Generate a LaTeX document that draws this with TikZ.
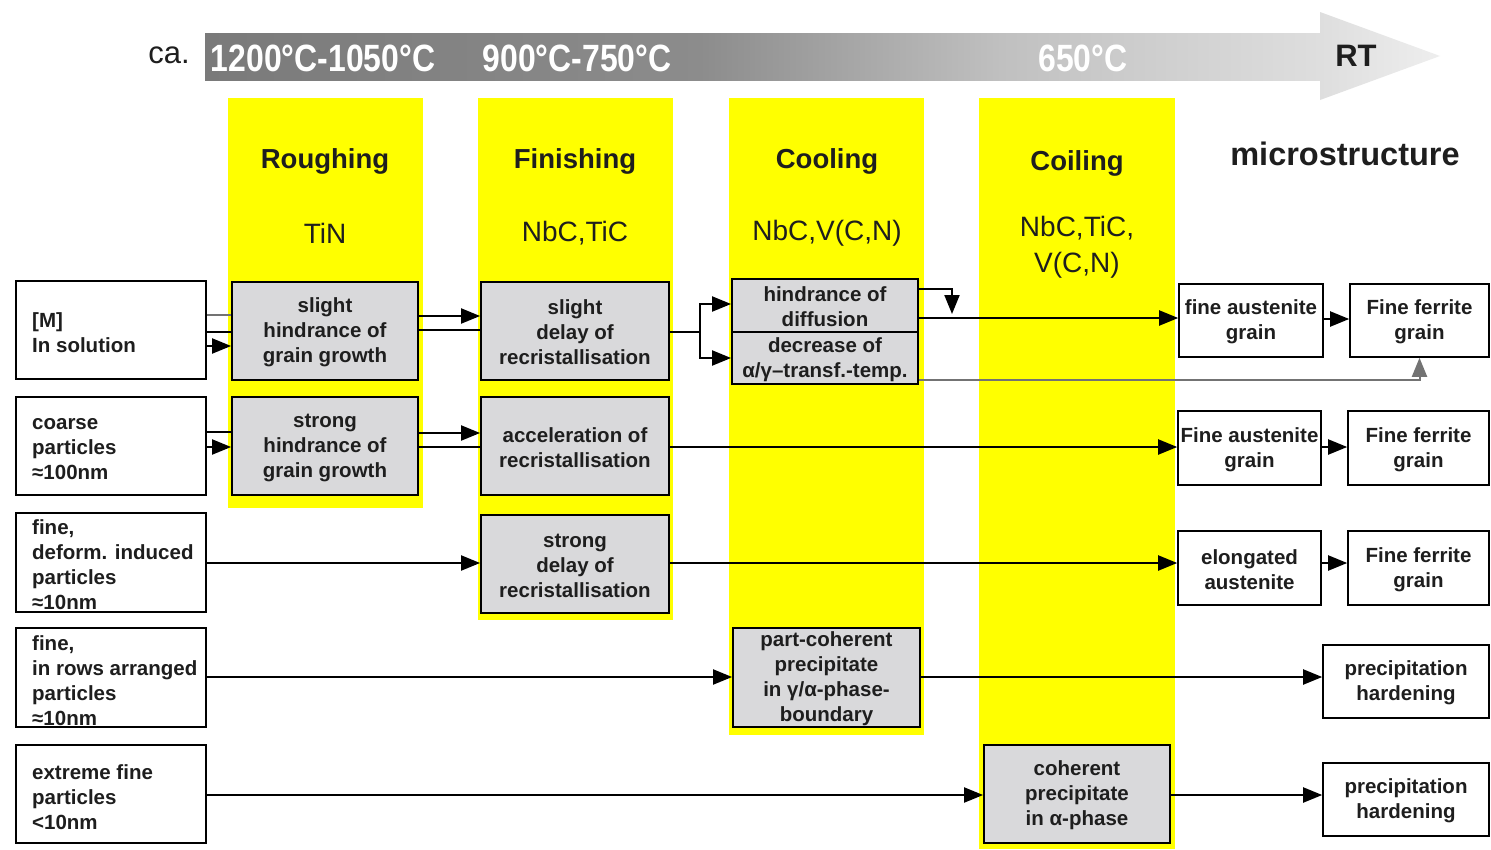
\documentclass[tikz,border=0pt]{standalone}
\usepackage{fontspec}
\setmainfont{Liberation Sans}
\newfontfamily\narrowfont[FakeStretch=0.84]{Liberation Sans}
\usetikzlibrary{arrows.meta}
\definecolor{ylw}{HTML}{FFFF00}
\definecolor{boxgray}{HTML}{D9D9DB}
\definecolor{txt}{HTML}{1E1E1E}
\definecolor{bnA}{HTML}{7A7A7A}
\definecolor{bnB}{HTML}{8C8C8C}
\definecolor{bnC}{HTML}{C0C0C0}
\definecolor{bnD}{HTML}{DEDEDE}
\definecolor{bnE}{HTML}{EEEEEE}
\begin{document}
\begin{tikzpicture}[x=1pt,y=-1pt,
  col/.style={fill=ylw, draw=none},
  boxfont/.style={font=\fontsize{20.5}{25}\selectfont\bfseries, text=txt},
  gbox/.style={draw=black, line width=1.8pt, fill=boxgray, align=center, inner sep=0pt, boxfont},
  wbox/.style={draw=black, line width=1.6pt, fill=white, align=center, inner sep=0pt, boxfont},
  ltext/.style={align=left, inner sep=0pt, anchor=west, boxfont},
  head/.style={font=\fontsize{27.5}{33}\selectfont\bfseries, text=txt, inner sep=0pt},
  chem/.style={font=\fontsize{28}{36}\selectfont, text=txt, inner sep=0pt, align=center},
  temp/.style={font=\narrowfont\bfseries\fontsize{38}{40}\selectfont, text=white, inner sep=0pt},
  tip/.style={-{Triangle[length=19pt,width=15pt]}},
  arr/.style={line width=2pt, tip},
  ln/.style={line width=2pt},
  gln/.style={line width=2pt, draw=black!55},
]
\useasboundingbox (0,0) rectangle (1491,849);
\fill[white] (0,0) rectangle (1491,849);

% banner arrow
\shade[left color=bnA, right color=bnB] (205,33) rectangle (701,80);
\shade[left color=bnB, right color=bnC] (700,33) rectangle (1001,80);
\shade[left color=bnC, right color=bnD] (1000,33) rectangle (1321,80);
\shade[left color=bnD, right color=bnE] (1320,12) -- (1440,56) -- (1320,100) -- cycle;
\node[font=\fontsize{31}{33}\selectfont, text=txt, inner sep=0pt] (ca) at (169,55) {ca.};
\node[temp] (t1) at (323,58) {1200°C-1050°C};
\node[temp] (t2) at (577,58) {900°C-750°C};
\node[temp] (t3) at (1083,58) {650°C};
\node[font=\fontsize{31}{33}\selectfont\bfseries, text=txt, inner sep=0pt] (rt) at (1356,56) {RT};

% yellow columns
\fill[col] (228,98) rectangle (423,508);
\fill[col] (478,98) rectangle (673,620);
\fill[col] (729,98) rectangle (924,735);
\fill[col] (979,98) rectangle (1175,849);

% headings
\node[head] (hr) at (325,161) {Roughing};
\node[head] (hf) at (575,161) {Finishing};
\node[head] (hc) at (827,161) {Cooling};
\node[head] (hco) at (1077,163) {Coiling};
\node[chem] (cr) at (325,233) {TiN};
\node[chem] (cf) at (575,233) {NbC,TiC};
\node[chem] (cc) at (827,233) {NbC,V(C,N)};
\node[chem, anchor=north] (cco) at (1077,216) {NbC,TiC,\\V(C,N)};
\node[font=\fontsize{32.5}{36}\selectfont\bfseries, text=txt, inner sep=0pt] (hm) at (1345,154) {microstructure};

% left boxes
\node[wbox, minimum width=190pt, minimum height=98pt] (lm) at (111,330) {};
\node[wbox, minimum width=190pt, minimum height=98pt] (lc) at (111,446) {};
\node[wbox, minimum width=190pt, minimum height=99pt] (ld) at (111,562.5) {};
\node[wbox, minimum width=190pt, minimum height=99pt] (lr) at (111,677.5) {};
\node[wbox, minimum width=190pt, minimum height=98pt] (le) at (111,794) {};
\node[ltext] (tm) at (32,333) {[M]\\In solution};
\node[ltext] (tc) at (32,449) {coarse\\particles\\≈100nm};
\node[ltext] (td) at (32,565) {fine,\\deform. induced\\particles\\≈10nm};
\node[ltext] (tr) at (32,681) {fine,\\in rows arranged\\particles\\≈10nm};
\node[ltext] (te) at (32,797) {extreme fine\\particles\\<10nm};

% gray process boxes
\node[gbox, minimum width=186pt, minimum height=98pt] (r1) at (325,331) {\strut slight\\hindrance of\\grain growth};
\node[gbox, minimum width=186pt, minimum height=98pt] (r2) at (325,446) {\strut strong\\hindrance of\\grain growth};
\node[gbox, minimum width=188pt, minimum height=98pt] (f1) at (575,331) {\strut slight\\delay of\\recristallisation};
\node[gbox, minimum width=188pt, minimum height=98pt] (f2) at (575,446) {\strut acceleration of\\recristallisation};
\node[gbox, minimum width=188pt, minimum height=98pt] (f3) at (575,564) {\strut strong\\delay of\\recristallisation};
\node[gbox, minimum width=186pt, minimum height=53pt] (c1) at (825,305.5) {\strut hindrance of\\diffusion};
\node[gbox, minimum width=186pt, minimum height=52pt] (c2) at (825,358) {\strut decrease of\\α/γ–transf.-temp.};
\node[gbox, minimum width=187pt, minimum height=99pt] (c3) at (826.5,677.5) {\strut part-coherent\\precipitate\\in γ/α-phase-\\boundary};
\node[gbox, minimum width=186pt, minimum height=98pt] (co) at (1077,794) {\strut coherent\\precipitate\\in α-phase};

% right boxes
\node[wbox, minimum width=144pt, minimum height=73pt] (a1) at (1251,320.5) {\strut fine austenite\\grain};
\node[wbox, minimum width=139pt, minimum height=73pt] (fr1) at (1419.5,320.5) {\strut Fine ferrite\\grain};
\node[wbox, minimum width=143pt, minimum height=74pt] (a2) at (1249.5,448) {\strut Fine austenite\\grain};
\node[wbox, minimum width=141pt, minimum height=74pt] (fr2) at (1418.5,448) {\strut Fine ferrite\\grain};
\node[wbox, minimum width=143pt, minimum height=74pt] (a3) at (1249.5,568) {\strut elongated\\austenite};
\node[wbox, minimum width=141pt, minimum height=74pt] (fr3) at (1418.5,568) {\strut Fine ferrite\\grain};
\node[wbox, minimum width=166pt, minimum height=73pt] (p1) at (1406,681.5) {\strut precipitation\\hardening};
\node[wbox, minimum width=166pt, minimum height=73pt] (p2) at (1406,799.5) {\strut precipitation\\hardening};

% connectors
\draw[gln] (lm.east |- 0,315) -- (r1.west |- 0,315);
\draw[ln] (lm.east |- 0,332) -- (r1.west |- 0,332);
\draw[arr] (lm.east |- 0,346) -- (r1.west |- 0,346);
\draw[ln] (lc.east |- 0,432) -- (r2.west |- 0,432);
\draw[arr] (lc.east |- 0,447) -- (r2.west |- 0,447);
\draw[arr] (r1.east |- 0,316) -- (f1.west |- 0,316);
\draw[ln] (r1.east |- 0,330) -- (f1.west |- 0,330);
\draw[arr] (r2.east |- 0,433) -- (f2.west |- 0,433);
\draw[ln] (r2.east |- 0,447) -- (f2.west |- 0,447);
\coordinate (br) at (700,332);
\draw[ln] (f1.east |- br) -- (br);
\draw[arr] (br) |- (c1.west |- 0,304);
\draw[arr] (br) |- (c2.west |- 0,358);
\draw[arr] (f2.east |- 0,447) -- (a2.west |- 0,447);
\draw[arr] (c1.east |- 0,318) -- (a1.west |- 0,318);
\coordinate (dn) at (952,314);
\draw[arr] (c1.east |- 0,289) -| (dn);
\draw[gln, tip] (c2.east |- 0,380) -| (fr1.south);
\draw[arr] (a1.east |- 0,319) -- (fr1.west |- 0,319);
\draw[arr] (a2.east |- 0,447) -- (fr2.west |- 0,447);
\draw[arr] (ld.east |- 0,563) -- (f3.west |- 0,563);
\draw[arr] (f3.east |- 0,563) -- (a3.west |- 0,563);
\draw[arr] (a3.east |- 0,563) -- (fr3.west |- 0,563);
\draw[arr] (lr.east |- 0,677) -- (c3.west |- 0,677);
\draw[arr] (c3.east |- 0,677) -- (p1.west |- 0,677);
\draw[arr] (le.east |- 0,795) -- (co.west |- 0,795);
\draw[arr] (co.east |- 0,795) -- (p2.west |- 0,795);
\end{tikzpicture}
\end{document}
